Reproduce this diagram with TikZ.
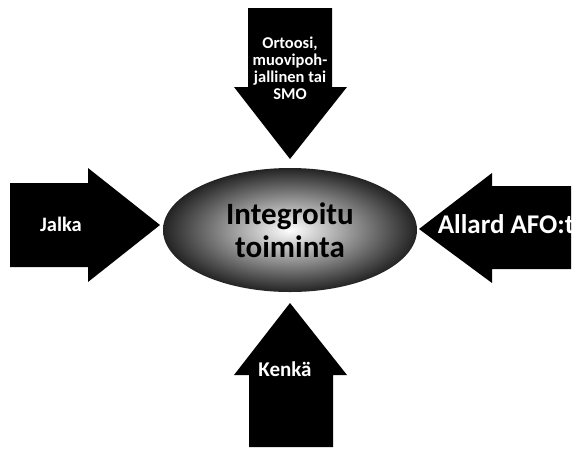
\documentclass[tikz,border=0pt]{standalone}
\usepackage{fontspec}
\setmainfont{Carlito}
\usetikzlibrary{shapes.geometric}
\definecolor{fxblack}{RGB}{0,0,0}
\definecolor{fxdark}{RGB}{35,35,35}

\begin{document}
\begin{tikzpicture}[x=1pt,y=-1pt,
  blockarrow/.style={fill=fxblack, draw=none},
  arrowlabel/.style={text=white, font=\bfseries, inner sep=0pt, align=center}]
\useasboundingbox (0,0) rectangle (578,448);

% Block arrows
\fill[blockarrow] (248,8) -- (332,8) -- (332,87) -- (347,87) -- (290,159) -- (234,87) -- (248,87) -- cycle;
\fill[blockarrow] (10,183) -- (88,183) -- (88,168) -- (160,225) -- (88,282) -- (88,267) -- (10,267) -- cycle;
\fill[blockarrow] (571,186) -- (492,186) -- (492,173) -- (419,229) -- (492,283) -- (492,269) -- (571,269) -- cycle;
\fill[blockarrow] (249,447) -- (249,375) -- (234,375) -- (290,303) -- (347,375) -- (333,375) -- (333,447) -- cycle;

% Centre
\node[ellipse, minimum width=254pt, minimum height=124pt, inner color=white, outer color=fxdark,
  font=\bfseries\fontsize{31}{33}\selectfont, align=center] (core) at (290,230) {Integroitu\\toiminta};

% Labels
\node[arrowlabel, font=\bfseries\fontsize{16.5}{17}\selectfont] (orthosis) at (290,68) {Ortoosi,\\muovipoh-\\jallinen tai\\SMO};
\node[arrowlabel, anchor=base, font=\bfseries\fontsize{20.5}{22}\selectfont] (foot) at (61,231) {Jalka};
\node[arrowlabel, anchor=base, font=\bfseries\fontsize{27}{29}\selectfont] (afo) at (506,233) {Allard AFO:t};
\node[arrowlabel, anchor=base, font=\bfseries\fontsize{21}{23}\selectfont] (shoe) at (285,376) {Kenkä};
\end{tikzpicture}
\end{document}
